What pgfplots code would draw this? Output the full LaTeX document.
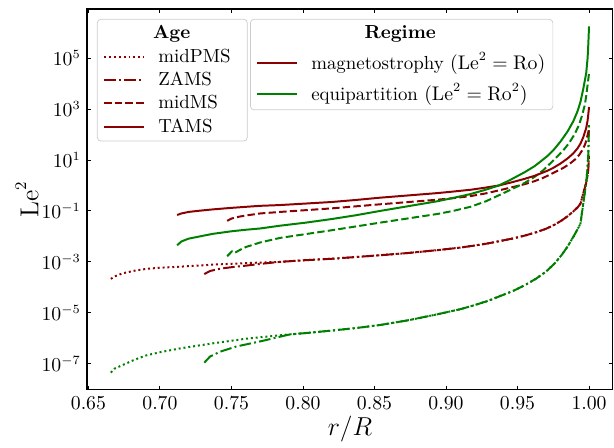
\documentclass[border=0pt]{standalone}
\usepackage{pgfplots}
\usepackage{pgfplotstable}
\pgfplotsset{compat=1.18}

\definecolor{dred}{HTML}{8B0000}
\definecolor{dgreen}{HTML}{008000}

\tikzset{
  lsdotted/.style={dash pattern=on 1.1pt off 1.6pt},
  lsdashdot/.style={dash pattern=on 6.4pt off 1.8pt on 1.1pt off 1.8pt},
  lsdashed/.style={dash pattern=on 4.1pt off 1.8pt},
}

\pgfplotsset{
  box/.style={scale only axis, width=292pt, height=211.5pt},
  legbox/.style={
    box, hide axis, xmin=0, xmax=1, ymin=0, ymax=1,
    legend cell align=left,
    legend style={draw=black!20, rounded corners=2pt, fill=white,
      fill opacity=0.8, text opacity=1, draw opacity=1,
      font=\fontsize{10.5}{12.6}\selectfont, inner xsep=3.2pt, inner ysep=2.4pt,
      nodes={inner sep=1pt}, column sep=6.5pt, anchor=north west},
  },
  sample/.style={legend image code/.code={\draw[#1, line width=1.1pt] (0pt,0pt) -- (22pt,0pt);}},
  sampleb/.style={legend image code/.code={\draw[#1, line width=1.2pt] (0pt,0.4pt) -- (22pt,0.4pt);}},
}

% log10(Le^2)
\pgfplotstableread{
x L
0.712 -1.16
0.715 -1.10
0.720 -1.04
0.728 -0.99
0.737 -0.94
0.750 -0.88
0.760 -0.84
0.770 -0.80
0.784 -0.77
0.802 -0.71
0.820 -0.65
0.837 -0.57
0.854 -0.48
0.874 -0.39
0.894 -0.30
0.905 -0.24
0.917 -0.17
0.927 -0.09
0.937 0.00
0.945 0.11
0.955 0.26
0.962 0.38
0.967 0.49
0.971 0.58
0.975 0.69
0.980 0.86
0.985 1.06
0.989 1.26
0.992 1.46
0.994 1.64
0.996 1.90
0.998 2.25
0.999 2.55
0.9995 2.80
1.000 3.08
}\rTAMS

\pgfplotstableread{
x L
0.712 -2.35
0.715 -2.20
0.720 -2.09
0.728 -2.00
0.737 -1.90
0.750 -1.80
0.760 -1.74
0.770 -1.69
0.784 -1.58
0.802 -1.46
0.820 -1.32
0.837 -1.17
0.854 -1.00
0.874 -0.81
0.894 -0.62
0.905 -0.49
0.917 -0.34
0.927 -0.18
0.937 0.00
0.945 0.22
0.955 0.52
0.962 0.76
0.967 0.98
0.971 1.16
0.975 1.38
0.980 1.72
0.985 2.12
0.989 2.52
0.992 2.92
0.994 3.28
0.996 3.80
0.998 4.40
0.999 5.00
0.9995 5.55
1.000 6.25
}\gTAMS

\pgfplotstableread{
x L
0.747 -1.39
0.750 -1.30
0.755 -1.23
0.760 -1.18
0.770 -1.10
0.784 -1.04
0.802 -0.97
0.820 -0.90
0.837 -0.82
0.854 -0.74
0.874 -0.65
0.894 -0.56
0.905 -0.50
0.917 -0.42
0.928 -0.31
0.938 -0.18
0.947 -0.06
0.955 0.05
0.962 0.17
0.968 0.30
0.975 0.49
0.982 0.69
0.986 0.83
0.990 1.01
0.993 1.19
0.995 1.36
0.997 1.58
0.998 1.75
0.999 1.98
1.000 2.20
}\rMS

\pgfplotstableread{
x L
0.747 -2.78
0.7505 -2.58
0.7525 -2.64
0.757 -2.50
0.760 -2.42
0.770 -2.24
0.784 -2.06
0.802 -1.91
0.820 -1.76
0.837 -1.61
0.854 -1.46
0.874 -1.29
0.894 -1.12
0.905 -1.00
0.917 -0.84
0.928 -0.62
0.938 -0.36
0.947 -0.12
0.955 0.10
0.962 0.34
0.968 0.60
0.975 0.98
0.982 1.38
0.986 1.66
0.990 2.02
0.993 2.38
0.995 2.72
0.997 3.15
0.998 3.50
0.999 3.95
1.000 4.40
}\gMS

\pgfplotstableread{
x L
0.731 -3.48
0.735 -3.36
0.742 -3.27
0.750 -3.21
0.760 -3.15
0.772 -3.07
0.784 -3.00
0.800 -2.94
0.820 -2.88
0.837 -2.81
0.854 -2.74
0.874 -2.65
0.894 -2.54
0.910 -2.44
0.920 -2.36
0.930 -2.27
0.938 -2.18
0.947 -2.08
0.955 -1.97
0.963 -1.84
0.970 -1.70
0.976 -1.54
0.981 -1.37
0.985 -1.21
0.989 -1.02
0.992 -0.86
0.994 -0.72
0.996 -0.30
0.997 -0.10
0.998 0.10
0.999 0.40
0.9995 0.65
1.000 1.20
}\rZAMS

\pgfplotstableread{
x L
0.6657 -3.67
0.668 -3.58
0.674 -3.45
0.682 -3.35
0.690 -3.28
0.700 -3.23
0.714 -3.19
0.737 -3.11
0.760 -3.05
0.784 -3.00
0.800 -2.94
0.820 -2.88
0.837 -2.81
0.854 -2.74
0.874 -2.65
0.894 -2.54
0.910 -2.44
0.920 -2.36
0.930 -2.27
0.938 -2.18
0.947 -2.08
0.955 -1.97
0.963 -1.84
0.970 -1.70
0.976 -1.54
0.981 -1.37
0.985 -1.21
0.989 -1.02
0.992 -0.86
0.994 -0.72
0.996 -0.30
0.997 -0.10
0.998 0.10
0.999 0.40
0.9995 0.65
1.000 1.20
}\rPMS

\pgfplotstableread{
x L
0.731 -6.96
0.735 -6.72
0.742 -6.53
0.753 -6.33
0.772 -6.10
0.790 -5.86
0.805 -5.78
0.820 -5.70
0.837 -5.60
0.854 -5.48
0.874 -5.29
0.894 -5.06
0.910 -4.86
0.920 -4.70
0.930 -4.52
0.938 -4.34
0.947 -4.14
0.955 -3.92
0.963 -3.66
0.970 -3.38
0.976 -3.06
0.981 -2.72
0.985 -2.40
0.989 -2.02
0.992 -1.72
0.994 -1.50
0.996 -0.70
0.997 -0.30
0.998 0.10
0.999 0.70
0.9995 1.25
1.000 2.40
}\gZAMS

\pgfplotstableread{
x L
0.6657 -7.35
0.668 -7.20
0.674 -7.05
0.682 -6.85
0.690 -6.68
0.700 -6.55
0.714 -6.40
0.737 -6.20
0.760 -6.02
0.790 -5.85
0.805 -5.78
0.820 -5.70
0.837 -5.60
0.854 -5.48
0.874 -5.29
0.894 -5.06
0.910 -4.86
0.920 -4.70
0.930 -4.52
0.938 -4.34
0.947 -4.14
0.955 -3.92
0.963 -3.66
0.970 -3.38
0.976 -3.06
0.981 -2.72
0.985 -2.40
0.989 -2.02
0.992 -1.72
0.994 -1.50
0.996 -0.70
0.997 -0.30
0.998 0.10
0.999 0.70
0.9995 1.25
1.000 2.40
}\gPMS

\begin{document}
\begin{tikzpicture}
\begin{axis}[box, name=main,
  ymode=log,
  xmin=0.649, xmax=1.0167, ymin=9.33e-9, ymax=8.5e6,
  xtick={0.65,0.70,0.75,0.80,0.85,0.90,0.95,1.00},
  xticklabel style={/pgf/number format/.cd, fixed, fixed zerofill, precision=2},
  ytick={1e-7,1e-5,1e-3,1e-1,1e1,1e3,1e5},
  minor tick num=0, yminorticks=false, xminorticks=false,
  tick align=inside, major tick length=2.4pt,
  tick style={black, line width=0.5pt},
  axis line style={line width=0.6pt},
  tick label style={font=\fontsize{10.5}{12.6}\selectfont},
  xlabel={$r/R$}, ylabel={$\mathrm{Le}^2$},
  label style={font=\fontsize{13.5}{16}\selectfont},
  xlabel style={at={(axis description cs:0.5,0)}, anchor=center, yshift=-21.6pt},
  ylabel style={at={(axis description cs:-0.114,0.5)}, anchor=center},
  every axis plot/.append style={line width=1.1pt, line join=round},
]
\addplot[dred, lsdotted] table[x=x, y expr=10^(\thisrow{L})] {\rPMS};
\addplot[dgreen, lsdotted] table[x=x, y expr=10^(\thisrow{L})] {\gPMS};
\addplot[dred, lsdashdot] table[x=x, y expr=10^(\thisrow{L})] {\rZAMS};
\addplot[dgreen, lsdashdot] table[x=x, y expr=10^(\thisrow{L})] {\gZAMS};
\addplot[dred, lsdashed] table[x=x, y expr=10^(\thisrow{L})] {\rMS};
\addplot[dgreen, lsdashed] table[x=x, y expr=10^(\thisrow{L})] {\gMS};
\addplot[dred] table[x=x, y expr=10^(\thisrow{L})] {\rTAMS};
\addplot[dgreen] table[x=x, y expr=10^(\thisrow{L})] {\gTAMS};
\end{axis}

\begin{axis}[legbox, at={(main.south west)}, anchor=south west,
  legend style={at={(0.019,0.974)}, row sep=2pt}]
\addlegendimage{empty legend}
\addlegendentry{\hspace*{-3pt}\rule[-2pt]{0pt}{9.5pt}\textbf{Age}}
\addlegendimage{sample={dred, lsdotted}}
\addlegendentry{\rule[-2pt]{0pt}{9pt}midPMS\hspace*{5pt}}
\addlegendimage{sample={dred, lsdashdot}}
\addlegendentry{\rule[-2pt]{0pt}{9pt}ZAMS}
\addlegendimage{sampleb={dred, dash pattern=on 4.2pt off 1.7pt}}
\addlegendentry{\rule[-2pt]{0pt}{9pt}midMS}
\addlegendimage{sample={dred}}
\addlegendentry{\rule[-2pt]{0pt}{9pt}TAMS}
\end{axis}

\begin{axis}[legbox, at={(main.south west)}, anchor=south west,
  legend style={at={(0.31,0.974)}, row sep=4.2pt}]
\addlegendimage{empty legend}
\addlegendentry{\hspace*{29.6pt}\rule[-2pt]{0pt}{9.5pt}\textbf{Regime}}
\addlegendimage{sample={dred}}
\addlegendentry{\rule[-2pt]{0pt}{9pt}magnetostrophy $(\mathrm{Le}^2 = \mathrm{Ro})$}
\addlegendimage{sample={dgreen}}
\addlegendentry{\rule[-2pt]{0pt}{9pt}equipartition $(\mathrm{Le}^2 = \mathrm{Ro}^2)$}
\end{axis}

\path (main.south west) ++(-48.3pt,-28.3pt);
\path (main.north east) ++(0.6pt,5pt);
\end{tikzpicture}
\end{document}
